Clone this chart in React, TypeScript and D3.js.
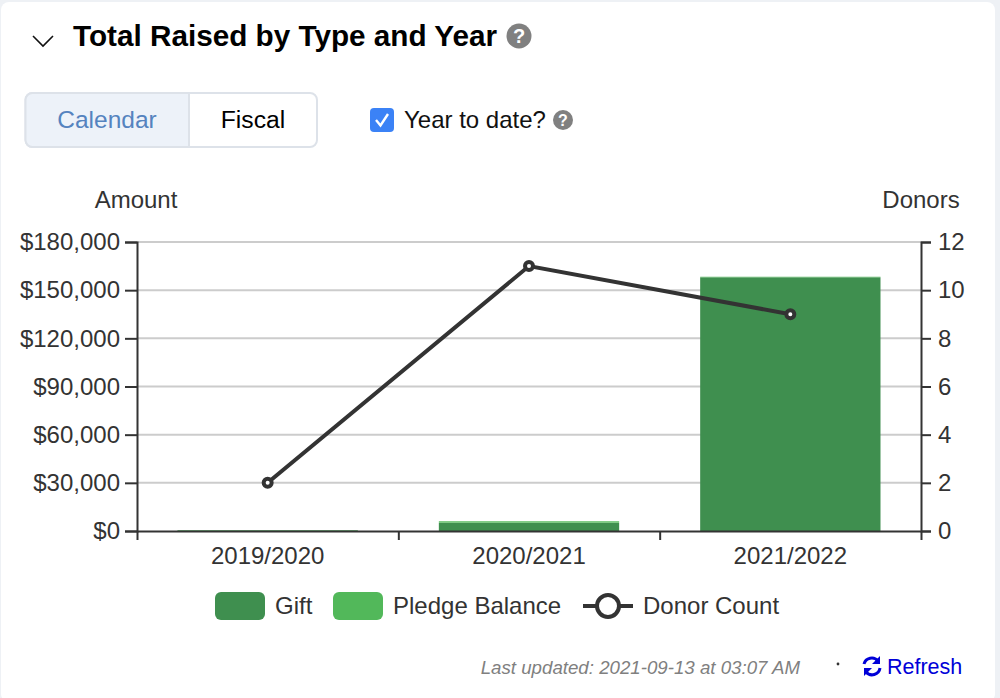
import { useRef, useEffect } from 'react'
import * as d3 from "d3";

const years = ["2019/2020", "2020/2021", "2021/2022"];
const gift = [400, 5000, 158000];
const pledgeBalance = [200, 1200, 400];
const donorCount = [2, 11, 9];
const amountTicks = [0, 30000, 60000, 90000, 120000, 150000, 180000];
const donorTicks = [0, 2, 4, 6, 8, 10, 12];

const width = 1000;
const height = 698;
const marginLeft = 137;
const marginRight = 79;
const marginTop = 242;
const marginBottom = 167;

const font = "'Liberation Sans', Arial, sans-serif";
const inkColor = "#333333";
const giftColor = "#3f8f4f";
const pledgeColor = "#52b85a";

function App() {
  const axisRef = useRef<SVGGElement>(null);

  const x = d3.scaleBand(years, [marginLeft, width - marginRight]).paddingInner(0.31).paddingOuter(0.155);
  const xOuter = d3.scaleBand(years, [marginLeft, width - marginRight]);
  const yAmount = d3.scaleLinear([0, 180000], [height - marginBottom, marginTop]);
  const yDonors = d3.scaleLinear([0, 12], [height - marginBottom, marginTop]);

  const donorLine = d3.line<number>()
    .x((_, i) => xOuter(years[i])! + xOuter.bandwidth() / 2)
    .y(d => yDonors(d));

  useEffect(() => {
    const root = d3.select(axisRef.current);
    root.selectAll("*").remove();

    const left = root.append("g")
      .attr("transform", `translate(${marginLeft},0)`)
      .call(d3.axisLeft(yAmount).tickValues(amountTicks).tickSize(12).tickPadding(5)
        .tickFormat(d => "$" + d3.format(",")(d as number)));
    const right = root.append("g")
      .attr("transform", `translate(${width - marginRight},0)`)
      .call(d3.axisRight(yDonors).tickValues(donorTicks).tickSize(10).tickPadding(7));
    const bottom = root.append("g")
      .attr("transform", `translate(0,${height - marginBottom})`)
      .call(d3.axisBottom(xOuter).tickSize(0).tickPadding(16));

    // tick marks sit on the band edges, not the band centres
    bottom.selectAll(".edge")
      .data([0, 1, 2, 3])
      .join("line")
      .attr("class", "edge")
      .attr("x1", i => marginLeft + 0.5 + i * xOuter.bandwidth())
      .attr("x2", i => marginLeft + 0.5 + i * xOuter.bandwidth())
      .attr("y1", 0)
      .attr("y2", 9)
      .attr("stroke", inkColor)
      .attr("stroke-width", 2);

    [left, right, bottom].forEach(g => {
      g.selectAll(".domain").attr("stroke", inkColor).attr("stroke-width", 2);
      g.selectAll(".tick line").attr("stroke", inkColor).attr("stroke-width", 2);
      g.selectAll("text").attr("fill", inkColor).attr("font-size", 24).attr("font-family", font);
    });
  }, []);

  return (
    <svg width={width} height={height} style={{ position: "absolute", left: 0, top: 0, background: "#eef1f5" }}>
      {/* card */}
      <rect x={1} y={2} width={994} height={700} rx={8} fill="#ffffff" />

      {/* header */}
      <path d="M33,36 L43,46 L53,36" fill="none" stroke="#111" strokeWidth={1.6} />
      <text x={73} y={46} fontFamily={font} fontWeight={700} fontSize={29.7} fill="#000">Total Raised by Type and Year</text>
      <circle cx={519} cy={36} r={12.5} fill="#808080" />
      <text x={519} y={43} textAnchor="middle" fontFamily={font} fontWeight={700} fontSize={20} fill="#fff">?</text>

      {/* calendar / fiscal toggle */}
      <rect x={25.5} y={93} width={291.5} height={54} rx={7} fill="#fff" stroke="#dde2e9" strokeWidth={2} />
      <path d="M32.5,93 H189 V147 H32.5 A7,7 0 0 1 25.5,140 V100 A7,7 0 0 1 32.5,93 Z" fill="#edf2f9" stroke="#dde2e9" strokeWidth={2} />
      <text x={107} y={128} textAnchor="middle" fontFamily={font} fontSize={24.5} fill="#5583bf">Calendar</text>
      <text x={253} y={128} textAnchor="middle" fontFamily={font} fontSize={24.7} fill="#000">Fiscal</text>

      {/* year to date */}
      <rect x={370} y={108} width={24} height={24} rx={4} fill="#3b82f6" />
      <path d="M376,120 L380.5,125.5 L388,114" fill="none" stroke="#fff" strokeWidth={2.4} />
      <text x={404} y={128} fontFamily={font} fontSize={24} fill="#111">Year to date?</text>
      <circle cx={563} cy={120} r={10} fill="#808080" />
      <text x={563} y={126} textAnchor="middle" fontFamily={font} fontWeight={700} fontSize={16} fill="#fff">?</text>

      {/* axis titles */}
      <text x={136} y={208} textAnchor="middle" fontFamily={font} fontSize={24} fill={inkColor}>Amount</text>
      <text x={921} y={208} textAnchor="middle" fontFamily={font} fontSize={24} fill={inkColor}>Donors</text>

      {/* grid */}
      {amountTicks.slice(1).map(t => (
        <line key={t} x1={marginLeft} x2={width - marginRight} y1={yAmount(t)} y2={yAmount(t)} stroke="#cccccc" strokeWidth={2} />
      ))}

      {/* stacked bars */}
      {years.map((year, i) => (
        <g key={year}>
          <rect x={x(year)} width={x.bandwidth()} y={yAmount(gift[i])} height={yAmount(0) - yAmount(gift[i])} fill={giftColor} />
          <rect x={x(year)} width={x.bandwidth()} y={yAmount(gift[i] + pledgeBalance[i])} height={yAmount(gift[i]) - yAmount(gift[i] + pledgeBalance[i])} fill={pledgeColor} opacity={0.75} />
        </g>
      ))}

      <g ref={axisRef} />

      {/* donor line */}
      <path d={donorLine(donorCount) ?? ""} fill="none" stroke={inkColor} strokeWidth={4} />
      {donorCount.map((d, i) => (
        <circle key={i} cx={xOuter(years[i])! + xOuter.bandwidth() / 2} cy={yDonors(d)} r={4} fill="#fff" stroke={inkColor} strokeWidth={4} />
      ))}

      {/* legend */}
      <rect x={215} y={592} width={50} height={28} rx={6} fill={giftColor} />
      <text x={275} y={614} fontFamily={font} fontSize={24} fill={inkColor}>Gift</text>
      <rect x={333} y={592} width={50} height={28} rx={6} fill={pledgeColor} />
      <text x={393} y={614} fontFamily={font} fontSize={24} fill={inkColor}>Pledge Balance</text>
      <line x1={583} x2={633} y1={606} y2={606} stroke={inkColor} strokeWidth={4} />
      <circle cx={608} cy={606} r={11} fill="#fff" stroke={inkColor} strokeWidth={4} />
      <text x={643} y={614} fontFamily={font} fontSize={24} fill={inkColor}>Donor Count</text>

      {/* footer */}
      <text x={800} y={674} textAnchor="end" fontFamily={font} fontStyle="italic" fontSize={18.7} fill="#808080">Last updated: 2021-09-13 at 03:07 AM</text>
      <circle cx={838} cy={664} r={1.4} fill="#333" />
      <g fill="none" stroke="#0000d8" strokeWidth={3}>
        <path d="M864,664 A8,8 0 0 1 878,661" />
        <path d="M880,668 A8,8 0 0 1 866,672" />
      </g>
      <path d="M880,656 V664 H872 Z M864,676 V668 H872 Z" fill="#0000d8" />
      <text x={887} y={674} fontFamily={font} fontSize={21.5} fill="#0000d8">Refresh</text>
    </svg>
  );
}

export default App;
